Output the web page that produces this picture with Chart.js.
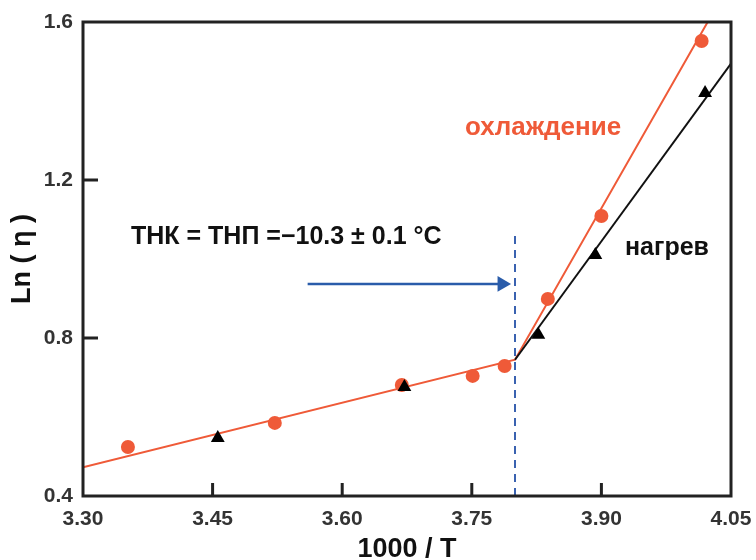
<!DOCTYPE html>
<html>
<head>
<meta charset="utf-8">
<script src="https://cdn.jsdelivr.net/npm/chart.js@4"></script>
<style>
  html, body { margin: 0; padding: 0; background: #fff; }
  #wrap { width: 756px; height: 560px; }
</style>
</head>
<body>
<div id="wrap"><canvas id="c" width="756" height="560"></canvas></div>
<script>
// measured points
const coolX = [3.352, 3.522, 3.669, 3.751, 3.788, 3.838, 3.900, 4.016];
const coolY = [0.524, 0.585, 0.681, 0.704, 0.729, 0.899, 1.109, 1.552];
const heatX = [3.456, 3.672, 3.827, 3.893, 4.020];
const heatY = [0.547, 0.676, 0.808, 1.010, 1.420];

// fitted lines
const coolFitX = [3.30, 3.80, 4.023];
const coolFitY = [0.473, 0.745, 1.60];
const heatFitX = [3.80, 4.05];
const heatFitY = [0.745, 1.495];

// transition marker
const dashX = [3.80, 3.80];
const dashY = [0.40, 1.06];
const arrowX = [3.560, 3.785];
const arrowY = [0.937, 0.937];

const xTicks = [3.30, 3.45, 3.60, 3.75, 3.90, 4.05];
const yTicks = [0.4, 0.8, 1.2, 1.6];

const ORANGE = '#ef5a38';
const FONT = "'Liberation Sans', Arial, sans-serif";

const pts = (xs, ys) => xs.map((x, i) => ({ x: x, y: ys[i] }));

const framePlugin = {
  id: 'frame',
  afterDatasetsDraw(chart) {
    const { ctx, chartArea: a, scales } = chart;
    ctx.save();
    ctx.strokeStyle = '#222';
    ctx.lineWidth = 3;
    ctx.strokeRect(a.left, a.top, a.right - a.left, a.bottom - a.top);
    // inward tick marks
    ctx.beginPath();
    xTicks.slice(1, -1).forEach(v => {
      const px = scales.x.getPixelForValue(v);
      ctx.moveTo(px, a.bottom);
      ctx.lineTo(px, a.bottom - 13);
    });
    yTicks.slice(1, -1).forEach(v => {
      const py = scales.y.getPixelForValue(v);
      ctx.moveTo(a.left, py);
      ctx.lineTo(a.left + 15, py);
    });
    ctx.stroke();

    // annotations
    ctx.textBaseline = 'middle';
    ctx.textAlign = 'left';
    ctx.font = 'bold 26px ' + FONT;
    ctx.fillStyle = ORANGE;
    ctx.fillText('охлаждение', 465, 128);
    ctx.font = 'bold 25px ' + FONT;
    ctx.fillStyle = '#111';
    ctx.fillText('нагрев', 625, 248);
    ctx.fillText('ТНК = ТНП =−10.3 ± 0.1 °C', 131, 237);
    ctx.restore();
  }
};

new Chart(document.getElementById('c'), {
  type: 'scatter',
  data: {
    datasets: [
      {
        type: 'line', data: pts(coolFitX, coolFitY), order: 5,
        borderColor: ORANGE, borderWidth: 2, pointRadius: 0, fill: false, tension: 0
      },
      {
        type: 'line', data: pts(heatFitX, heatFitY), order: 4,
        borderColor: '#111', borderWidth: 2, pointRadius: 0, fill: false, tension: 0
      },
      {
        type: 'line', data: pts(dashX, dashY), order: 3,
        borderColor: '#3a62b0', borderWidth: 2, borderDash: [8, 6], pointRadius: 0, fill: false
      },
      {
        type: 'line', data: pts(arrowX, arrowY), order: 2,
        borderColor: '#2a5caa', borderWidth: 2.5, fill: false,
        pointStyle: 'triangle', pointRotation: 90,
        pointRadius: [0, 9], pointBackgroundColor: '#2a5caa', pointBorderWidth: 0
      },
      {
        data: pts(coolX, coolY), order: 1,
        pointStyle: 'circle', pointRadius: 7,
        backgroundColor: ORANGE, borderColor: ORANGE, borderWidth: 0
      },
      {
        data: pts(heatX, heatY), order: 0,
        pointStyle: 'triangle', pointRadius: 8,
        backgroundColor: '#000', borderColor: '#000', borderWidth: 0
      }
    ]
  },
  options: {
    responsive: false,
    animation: false,
    events: [],
    layout: { padding: { left: 0, right: 25, top: 22, bottom: 0 } },
    plugins: { legend: { display: false }, tooltip: { enabled: false } },
    scales: {
      x: {
        type: 'linear', min: 3.30, max: 4.05,
        afterBuildTicks: s => { s.ticks = xTicks.map(v => ({ value: v })); },
        afterFit: s => { s.height = 64; s.paddingLeft = 0; s.paddingRight = 0; },
        grid: { display: false, drawTicks: false },
        border: { display: false },
        ticks: {
          padding: 11,
          color: '#333',
          font: { family: FONT, size: 21, weight: 'bold' },
          callback: v => v.toFixed(2)
        },
        title: {
          display: true, text: '1000 / T', color: '#111',
          font: { family: FONT, size: 27, weight: 'bold', lineHeight: 1 },
          padding: { top: 0, bottom: -3 }
        }
      },
      y: {
        type: 'linear', min: 0.4, max: 1.6,
        afterBuildTicks: s => { s.ticks = yTicks.map(v => ({ value: v })); },
        afterFit: s => { s.width = 83; s.paddingTop = 0; s.paddingBottom = 0; },
        grid: { display: false, drawTicks: false },
        border: { display: false },
        ticks: {
          padding: 10,
          color: '#333',
          font: { family: FONT, size: 21, weight: 'bold' },
          callback: v => v.toFixed(1)
        },
        title: {
          display: true, text: 'Ln ( η )', color: '#111',
          font: { family: FONT, size: 27, weight: 'bold', lineHeight: 1 },
          padding: { top: 9, bottom: 0 }
        }
      }
    }
  },
  plugins: [framePlugin]
});
</script>
</body>
</html>
